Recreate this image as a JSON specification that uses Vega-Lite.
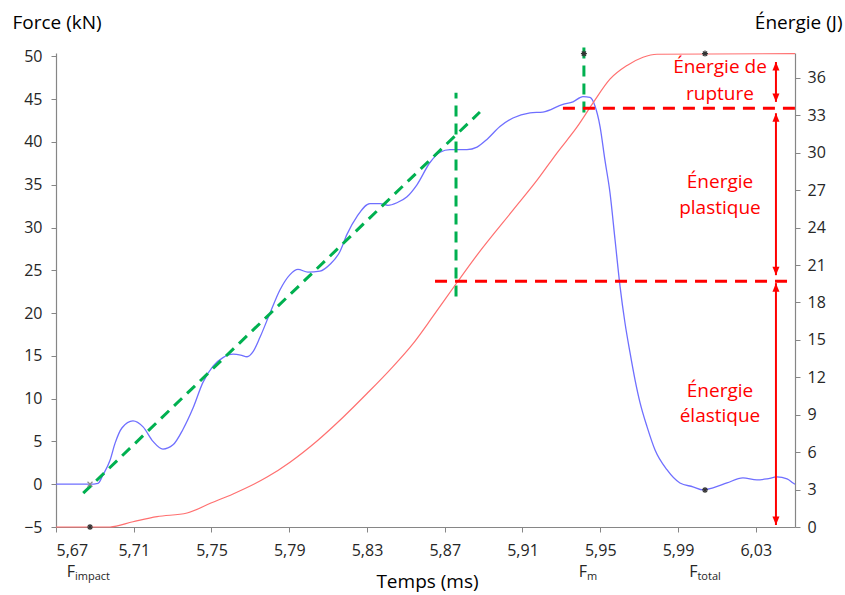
{
  "$schema": "https://vega.github.io/schema/vega-lite/v6.json",
  "width": 739,
  "height": 474,
  "autosize": {"type": "none"},
  "padding": {"left": 56, "top": 53, "right": 50, "bottom": 68},
  "config": {
    "view": {"stroke": null},
    "font": "Open Sans",
    "axis": {
      "grid": false,
      "domainColor": "#868686",
      "domainWidth": 1.2,
      "tickColor": "#868686",
      "tickSize": 5,
      "labelOverlap": false,
      "labelFont": "Open Sans",
      "labelFontSize": 16,
      "labelColor": "#262626",
      "titleFont": "Open Sans",
      "titleFontSize": 19,
      "titleFontWeight": "normal",
      "titleColor": "#000000"
    }
  },
  "datasets": {
    "blue": [
      {"t": 5.67, "f": 0}, {"t": 5.6875, "f": 0}, {"t": 5.6916, "f": 0.1}, {"t": 5.6942, "f": 1.1},
      {"t": 5.6978, "f": 2.8}, {"t": 5.7004, "f": 4.8}, {"t": 5.704, "f": 6.6}, {"t": 5.7096, "f": 7.4},
      {"t": 5.7148, "f": 6.7}, {"t": 5.7199, "f": 5.0}, {"t": 5.725, "f": 4.1}, {"t": 5.7302, "f": 4.6},
      {"t": 5.7353, "f": 6.4}, {"t": 5.7405, "f": 8.9}, {"t": 5.7456, "f": 11.9}, {"t": 5.7508, "f": 13.8},
      {"t": 5.7559, "f": 14.8}, {"t": 5.7611, "f": 15.2}, {"t": 5.765, "f": 15.1}, {"t": 5.7683, "f": 14.9},
      {"t": 5.7714, "f": 15.5}, {"t": 5.775, "f": 17.2}, {"t": 5.7801, "f": 20.0}, {"t": 5.7852, "f": 22.7},
      {"t": 5.7904, "f": 24.5}, {"t": 5.7945, "f": 25.1}, {"t": 5.7996, "f": 24.8}, {"t": 5.8058, "f": 24.9},
      {"t": 5.811, "f": 25.7}, {"t": 5.8161, "f": 27.2}, {"t": 5.8197, "f": 29.2}, {"t": 5.8249, "f": 31.3},
      {"t": 5.8315, "f": 32.8}, {"t": 5.8367, "f": 32.8}, {"t": 5.8408, "f": 32.6}, {"t": 5.8454, "f": 32.9},
      {"t": 5.8506, "f": 33.6}, {"t": 5.8557, "f": 35.0}, {"t": 5.8624, "f": 37.6}, {"t": 5.8676, "f": 38.8},
      {"t": 5.8727, "f": 39.1}, {"t": 5.8814, "f": 39.1}, {"t": 5.8866, "f": 39.4}, {"t": 5.8917, "f": 40.3},
      {"t": 5.8984, "f": 41.8}, {"t": 5.9051, "f": 42.8}, {"t": 5.9139, "f": 43.4}, {"t": 5.9205, "f": 43.5},
      {"t": 5.9308, "f": 44.4}, {"t": 5.936, "f": 44.7}, {"t": 5.9411, "f": 45.3}, {"t": 5.9447, "f": 45.2},
      {"t": 5.9473, "f": 44.2}, {"t": 5.9499, "f": 41.8}, {"t": 5.9524, "f": 37.9}, {"t": 5.955, "f": 34.1},
      {"t": 5.9576, "f": 28.6}, {"t": 5.9602, "f": 23.1}, {"t": 5.9627, "f": 18.9}, {"t": 5.9653, "f": 15.4},
      {"t": 5.9679, "f": 12.2}, {"t": 5.9705, "f": 9.5}, {"t": 5.9741, "f": 6.7}, {"t": 5.9782, "f": 4.0},
      {"t": 5.9843, "f": 1.7}, {"t": 5.991, "f": 0.15}, {"t": 5.9977, "f": -0.3}, {"t": 6.0029, "f": -0.67},
      {"t": 6.008, "f": -0.43}, {"t": 6.0152, "f": 0.15}, {"t": 6.0234, "f": 0.74}, {"t": 6.0306, "f": 0.5},
      {"t": 6.0358, "f": 0.62}, {"t": 6.0409, "f": 0.85}, {"t": 6.0461, "f": 0.62}, {"t": 6.0492, "f": 0.15},
      {"t": 6.0502, "f": 0.0}
    ],
    "red": [
      {"t": 5.67, "e": 0}, {"t": 5.6978, "e": 0}, {"t": 5.7096, "e": 0.42}, {"t": 5.722, "e": 0.83},
      {"t": 5.7374, "e": 1.12}, {"t": 5.7497, "e": 1.92}, {"t": 5.7611, "e": 2.65}, {"t": 5.7786, "e": 4.0},
      {"t": 5.7904, "e": 5.2}, {"t": 5.8043, "e": 6.9}, {"t": 5.8177, "e": 8.8}, {"t": 5.83, "e": 10.7},
      {"t": 5.8418, "e": 12.6}, {"t": 5.8537, "e": 14.7}, {"t": 5.864, "e": 16.9}, {"t": 5.8763, "e": 19.6},
      {"t": 5.8866, "e": 21.8}, {"t": 5.9051, "e": 25.4}, {"t": 5.9175, "e": 27.8}, {"t": 5.9278, "e": 30.0},
      {"t": 5.938, "e": 32.05}, {"t": 5.9463, "e": 34.0}, {"t": 5.955, "e": 35.9}, {"t": 5.9638, "e": 37.0},
      {"t": 5.972, "e": 37.66}, {"t": 5.9792, "e": 37.9}, {"t": 6.0502, "e": 37.95}
    ],
    "green": [
      {"t": 5.684, "f": -1.05, "t2": 5.8881, "f2": 43.5},
      {"t": 5.8758, "f": 21.95, "t2": 5.8758, "f2": 45.76},
      {"t": 5.9416, "f": 43.45, "t2": 5.9416, "f2": 51.3}
    ],
    "reddash": [
      {"t": 5.9308, "e": 33.57, "t2": 6.0502},
      {"t": 5.865, "e": 19.7, "t2": 6.0502}
    ],
    "arrows": [
      {"t": 6.0404, "e": 37.28, "e2": 34.08},
      {"t": 6.0404, "e": 33.17, "e2": 20.19},
      {"t": 6.0404, "e": 19.55, "e2": 0.16}
    ],
    "headsUp": [
      {"t": 6.0404, "e": 37.28}, {"t": 6.0404, "e": 33.17}, {"t": 6.0404, "e": 19.55}
    ],
    "headsDown": [
      {"t": 6.0404, "e": 34.08}, {"t": 6.0404, "e": 20.19}, {"t": 6.0404, "e": 0.16}
    ],
    "labels": [
      {"t": 6.0116, "e": 36.38, "text": "Énergie de"},
      {"t": 6.0116, "e": 34.22, "text": "rupture"},
      {"t": 6.0116, "e": 27.14, "text": "Énergie"},
      {"t": 6.0116, "e": 25.13, "text": "plastique"},
      {"t": 6.0116, "e": 10.43, "text": "Énergie"},
      {"t": 6.0116, "e": 8.42, "text": "élastique"}
    ],
    "fMain": [
      {"t": 5.6798, "f": -10.85, "text": "F"},
      {"t": 5.9432, "f": -10.85, "text": "F"},
      {"t": 6.0, "f": -10.85, "text": "F"}
    ],
    "fSub": [
      {"t": 5.6798, "f": -11.15, "text": "impact"},
      {"t": 5.9432, "f": -11.15, "text": "m"},
      {"t": 6.0, "f": -11.15, "text": "total"}
    ],
    "starsF": [{"t": 6.0039, "f": -0.67}],
    "crossF": [{"t": 5.6875, "f": 0}],
    "starsE": [{"t": 5.6875, "e": 0}, {"t": 5.9416, "e": 37.95}, {"t": 6.0039, "e": 37.95}]
  },
  "layer": [
    {
      "layer": [
        {
          "data": {"name": "blue"},
          "mark": {"type": "line", "color": "#6F6FFF", "strokeWidth": 1.3, "interpolate": "monotone"},
          "encoding": {
            "x": {
              "field": "t", "type": "quantitative",
              "scale": {"domain": [5.67, 6.0502], "nice": false, "zero": false},
              "axis": {
                "values": [5.67, 5.71, 5.75, 5.79, 5.83, 5.87, 5.91, 5.95, 5.99, 6.03],
                "tickCount": 30,
                "labelExpr": "replace(format(datum.value, '.2f'), '.', ',')",
                "labelPadding": 10,
                "labelOverlap": false,
                "title": "Temps (ms)",
                "titleAngle": 0, "titleX": 371, "titleY": 60,
                "titleAlign": "center", "titleBaseline": "alphabetic"
              }
            },
            "y": {
              "field": "f", "type": "quantitative",
              "scale": {"domain": [-5, 50.4], "nice": false, "zero": false},
              "axis": {
                "orient": "left",
                "values": [-5, 0, 5, 10, 15, 20, 25, 30, 35, 40, 45, 50],
                "tickCount": 30,
                "labelPadding": 9,
                "labelOverlap": false,
                "title": "Force (kN)",
                "titleAngle": 0, "titleX": -44, "titleY": -25,
                "titleAlign": "left", "titleBaseline": "alphabetic"
              }
            }
          }
        },
        {
          "data": {"name": "green"},
          "mark": {"type": "rule", "color": "#00B050", "strokeWidth": 3, "strokeDash": [11, 7], "clip": false},
          "encoding": {
            "x": {"field": "t", "type": "quantitative"},
            "y": {"field": "f", "type": "quantitative"},
            "x2": {"field": "t2"},
            "y2": {"field": "f2"}
          }
        },
        {
          "data": {"name": "crossF"},
          "mark": {"type": "point", "shape": "M-0.7,-0.7L0.7,0.7M-0.7,0.7L0.7,-0.7", "size": 50, "filled": false, "stroke": "#8C8C8C", "strokeWidth": 1.2, "opacity": 1},
          "encoding": {
            "x": {"field": "t", "type": "quantitative"},
            "y": {"field": "f", "type": "quantitative"}
          }
        },
        {
          "data": {"name": "starsF"},
          "mark": {"type": "point", "shape": "M-1,0L1,0M0,-1L0,1M-0.7,-0.7L0.7,0.7M-0.7,0.7L0.7,-0.7", "size": 36, "filled": false, "stroke": "#333333", "strokeWidth": 1.2, "opacity": 1},
          "encoding": {
            "x": {"field": "t", "type": "quantitative"},
            "y": {"field": "f", "type": "quantitative"}
          }
        },
        {
          "data": {"name": "fMain"},
          "mark": {"type": "text", "align": "right", "baseline": "alphabetic", "fontSize": 16, "color": "#262626", "font": "Open Sans"},
          "encoding": {
            "x": {"field": "t", "type": "quantitative"},
            "y": {"field": "f", "type": "quantitative"},
            "text": {"field": "text"}
          }
        },
        {
          "data": {"name": "fSub"},
          "mark": {"type": "text", "align": "left", "baseline": "alphabetic", "fontSize": 11, "color": "#262626", "font": "Open Sans"},
          "encoding": {
            "x": {"field": "t", "type": "quantitative"},
            "y": {"field": "f", "type": "quantitative"},
            "text": {"field": "text"}
          }
        }
      ]
    },
    {
      "layer": [
        {
          "data": {"name": "red"},
          "mark": {"type": "line", "color": "#FF7070", "strokeWidth": 1.2, "interpolate": "monotone"},
          "encoding": {
            "x": {"field": "t", "type": "quantitative"},
            "y": {
              "field": "e", "type": "quantitative",
              "scale": {"domain": [0, 38], "nice": false, "zero": false},
              "axis": {
                "orient": "right",
                "values": [0, 3, 6, 9, 12, 15, 18, 21, 24, 27, 30, 33, 36],
                "tickCount": 30,
                "labelPadding": 7,
                "labelOverlap": false,
                "title": "Énergie (J)",
                "titleAngle": 0, "titleX": 47, "titleY": -25,
                "titleAlign": "right", "titleBaseline": "alphabetic"
              }
            }
          }
        },
        {
          "data": {"name": "reddash"},
          "mark": {"type": "rule", "color": "#FF0000", "strokeWidth": 3, "strokeDash": [12, 8]},
          "encoding": {
            "x": {"field": "t", "type": "quantitative"},
            "x2": {"field": "t2"},
            "y": {"field": "e", "type": "quantitative"}
          }
        },
        {
          "data": {"name": "arrows"},
          "mark": {"type": "rule", "color": "#FF0000", "strokeWidth": 2},
          "encoding": {
            "x": {"field": "t", "type": "quantitative"},
            "y": {"field": "e", "type": "quantitative"},
            "y2": {"field": "e2"}
          }
        },
        {
          "data": {"name": "headsUp"},
          "mark": {"type": "point", "shape": "M0,0L-0.7,1.7L0.7,1.7Z", "size": 100, "filled": true, "color": "#FF0000", "opacity": 1},
          "encoding": {
            "x": {"field": "t", "type": "quantitative"},
            "y": {"field": "e", "type": "quantitative"}
          }
        },
        {
          "data": {"name": "headsDown"},
          "mark": {"type": "point", "shape": "M0,0L-0.7,-1.7L0.7,-1.7Z", "size": 100, "filled": true, "color": "#FF0000", "opacity": 1},
          "encoding": {
            "x": {"field": "t", "type": "quantitative"},
            "y": {"field": "e", "type": "quantitative"}
          }
        },
        {
          "data": {"name": "starsE"},
          "mark": {"type": "point", "shape": "M-1,0L1,0M0,-1L0,1M-0.7,-0.7L0.7,0.7M-0.7,0.7L0.7,-0.7", "size": 36, "filled": false, "stroke": "#333333", "strokeWidth": 1.2, "opacity": 1},
          "encoding": {
            "x": {"field": "t", "type": "quantitative"},
            "y": {"field": "e", "type": "quantitative"}
          }
        },
        {
          "data": {"name": "labels"},
          "mark": {"type": "text", "align": "center", "baseline": "alphabetic", "fontSize": 19, "color": "#FF0000", "font": "Open Sans"},
          "encoding": {
            "x": {"field": "t", "type": "quantitative"},
            "y": {"field": "e", "type": "quantitative"},
            "text": {"field": "text"}
          }
        }
      ]
    }
  ],
  "resolve": {"scale": {"y": "independent"}, "axis": {"y": "independent"}}
}
